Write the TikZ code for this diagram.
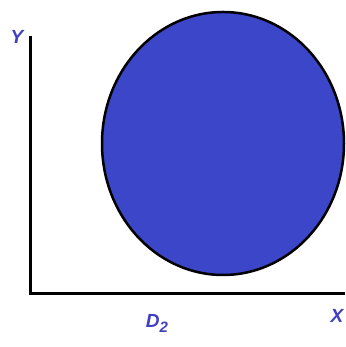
\documentclass[tikz,border=0pt]{standalone}
\usepackage{fontspec}
\setmainfont{Liberation Sans}
\definecolor{discblue}{RGB}{60,70,200}
\definecolor{labelblue}{RGB}{64,64,192}
\tikzset{lbl/.style={text=labelblue,font=\fontsize{19}{22}\selectfont\bfseries\itshape,inner sep=0pt}}
\begin{document}
\begin{tikzpicture}[x=1pt,y=1pt]
\useasboundingbox (0,0) rectangle (345,347);
\draw[fill=discblue,line width=2.5pt] (223,203.5) ellipse (121 and 131.5);
\coordinate (o) at (30,53);
\coordinate (ytop) at (30,311);
\coordinate (xend) at (345,53);
\draw[line width=3pt] (ytop) -- (o) -- (xend);
\node[lbl] (ylab) at (17,310) {Y};
\node[lbl] (xlab) at (337,31) {X};
\node[lbl] (dlab) at (157,24) {D\raisebox{-5pt}{\fontsize{15}{18}\selectfont 2}};
\end{tikzpicture}
\end{document}
